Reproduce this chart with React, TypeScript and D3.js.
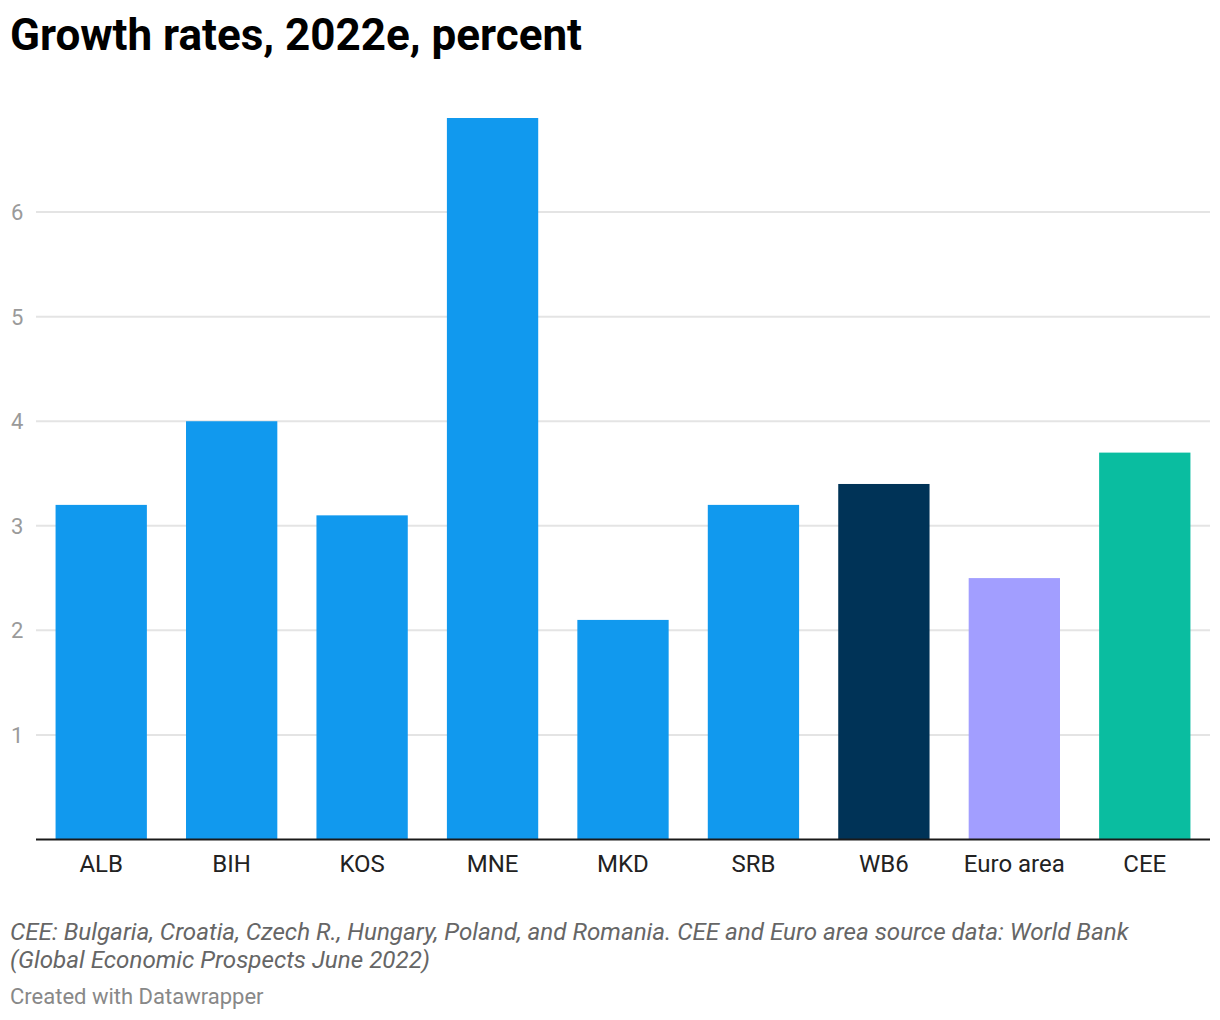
import React from 'react';
import * as d3 from 'd3';

const categories = ['ALB', 'BIH', 'KOS', 'MNE', 'MKD', 'SRB', 'WB6', 'Euro area', 'CEE'];
const growth = [3.2, 4.0, 3.1, 6.9, 2.1, 3.2, 3.4, 2.5, 3.7];
const barColors = ['#1199ee', '#1199ee', '#1199ee', '#1199ee', '#1199ee', '#1199ee', '#003357', '#a29eff', '#0abda0'];
const yTicks = [1, 2, 3, 4, 5, 6];

const W = 1220;
const H = 1020;
const left = 36;
const right = 1210;
const top = 118;
const bottom = 839.5;

const App: React.FC = () => {
  const x = d3.scaleBand<string>()
    .domain(categories)
    .range([left, right])
    .paddingInner(0.3)
    .paddingOuter(0.15);

  const y = d3.scaleLinear()
    .domain([0, 6.9])
    .range([bottom, top]);

  const font = 'Roboto, sans-serif';

  return (
    <svg width={W} height={H} style={{ position: 'absolute', left: 0, top: 0 }} fontFamily={font}>
      <rect width={W} height={H} fill="#fff" />
      <text x={10} y={50} fontSize={44} fontWeight={700} fill="#000">Growth rates, 2022e, percent</text>

      {yTicks.map(t => (
        <g key={t}>
          <line x1={left} x2={right} y1={y(t)} y2={y(t)} stroke="#e4e4e4" strokeWidth={2} />
          <text x={11} y={y(t) + 8} fontSize={22} fill="#9a9a9a">{t}</text>
        </g>
      ))}

      {categories.map((c, i) => (
        <rect key={c}
          x={x(c)}
          y={y(growth[i])}
          width={x.bandwidth()}
          height={bottom - y(growth[i])}
          fill={barColors[i]} />
      ))}

      <line x1={left} x2={right} y1={bottom} y2={bottom} stroke="#1a1a1a" strokeWidth={2} />

      {categories.map(c => (
        <text key={c} x={(x(c) || 0) + x.bandwidth() / 2} y={872} textAnchor="middle" fontSize={24} fill="#222">{c}</text>
      ))}

      <text x={10} y={940} fontSize={24.2} fontStyle="italic" fill="#666">CEE: Bulgaria, Croatia, Czech R., Hungary, Poland, and Romania. CEE and Euro area source data: World Bank</text>
      <text x={10} y={968} fontSize={24.2} fontStyle="italic" fill="#666">(Global Economic Prospects June 2022)</text>
      <text x={10} y={1004} fontSize={22} fill="#888">Created with Datawrapper</text>
    </svg>
  );
};

export default App;
